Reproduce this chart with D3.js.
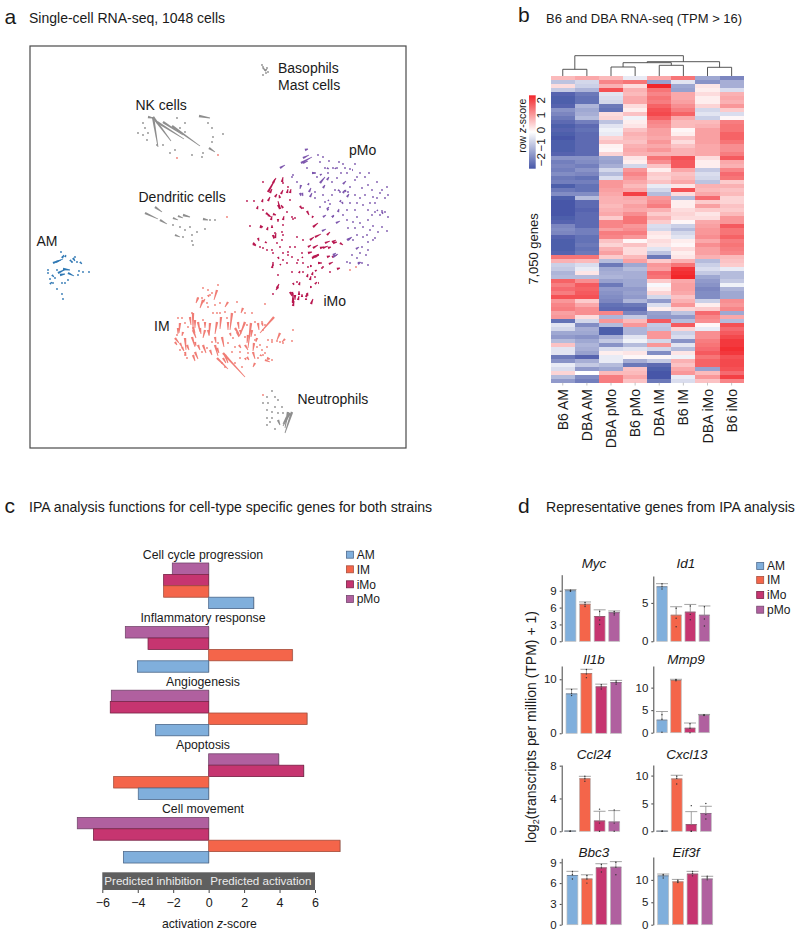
<!DOCTYPE html>
<html>
<head>
<meta charset="utf-8">
<script src="https://cdn.jsdelivr.net/npm/d3@7"></script>
<style>
html, body { margin: 0; padding: 0; background: #fff; }
svg { display: block; }
text { font-family: "Liberation Sans", Arial, sans-serif; fill: #1a1a1a; }
.domain { stroke: #444; }
</style>
</head>
<body>
<svg id="fig" width="800" height="937"></svg>
<script>
// ---- panel a: arrows are [x, y, dx, dy] in embedding units, dots are [x, y]
var amArrows = [[53,263,10,-4],[65,257,1,-2],[62,258,2,-3],[73,258,2,3],[80,262,2,2],[58,273,8,-4],[63,269,7,1],[68,273,6,3],[52,275,2,2],[50,284,2,-2],[56,262,5,-2],[60,275,5,-1],[70,260,2,2]];
var amDots = [[61,252],[75,257],[48,270],[48,273],[78,275],[83,272],[89,272],[79,271],[53,283],[62,283],[65,283],[57,289],[62,294],[63,299],[50,279],[55,278],[57,270],[72,262],[77,262],[68,280]];
var imArrows = [[217,358,11,11],[223,353,22,24],[274,317,-14,16],[251,323,-3,25],[254,343,-1,8],[280,333,-3,7],[285,339,-3,3],[217,290,-3,10],[208,295,1,2],[203,300,-3,8],[228,302,-3,5],[243,308,-2,5],[232,313,-2,17],[221,317,-1,12],[217,322,-2,12],[210,323,-1,13],[205,330,-2,8],[193,313,0,17],[198,322,2,10],[193,330,3,8],[180,323,-1,10],[183,332,-1,4],[175,338,4,5],[185,338,1,12],[192,337,3,10],[195,352,3,7],[193,355,2,6],[203,345,3,8],[210,350,2,5],[215,345,3,11],[222,337,2,10],[225,355,3,8],[235,328,5,8],[245,322,-5,13],[238,322,1,7],[230,333,1,3],[239,345,2,3],[245,345,3,5],[258,323,1,7],[253,352,2,7],[247,357,2,3],[255,363,-2,4],[265,360,5,2],
  [178,328,0,6],[190,317,1,8],[195,320,0,8],[193,327,2,6],[200,328,1,6],[205,322,0,6],[175,342,2,3],[180,343,2,4],[187,345,2,5],[182,347,2,4],[198,298,-2,5],[203,302,2,-3],[228,322,0,8],[237,332,2,5],[248,335,-1,8],[252,330,-1,7],[215,337,1,6],[208,330,1,5],[185,352,1,4],[195,342,1,4],[198,345,2,5],[217,348,2,5],[223,358,3,5],[245,358,1,2],[260,355,2,1],[267,358,3,1],[240,330,1,4],[257,338,-1,4],[262,323,1,3]];
var imDots = [[203,288],[210,295],[218,285],[198,298],[192,313],[208,307],[220,303],[237,302],[265,304],[252,313],[262,322],[255,322],[268,340],[272,342],[283,343],[292,341],[293,330],[267,347],[263,355],[268,359],[272,360],[258,358],[240,358],[232,352],[235,347],[228,343],[212,342],[202,352],[187,358],[180,350],[178,318],[185,323],[203,320],[227,318],[220,313],[213,313],[265,325],[245,337],[255,335],[242,367],[222,363],[257,347],[262,350],
  [208,290],[212,293],[202,298],[207,303],[215,305],[225,312],[235,312],[245,313],[217,313],[247,325],[263,330],[272,340],[277,341],[280,342],[240,352],[248,353],[255,340],[182,318],[188,327],[177,335],[185,355],[207,348],[218,343],[233,338],[260,345],[265,353],[225,367],[235,363]];
var imoArrows = [[268,192,8,-14],[282,182,1,-5],[281,194,2,-4],[287,193,1,-4],[290,193,1,-4],[280,209,-2,-8],[275,197,2,-3],[268,201,2,-4],[262,202,1,-3],[257,209,1,-3],[266,213,4,3],[273,214,3,1],[271,220,1,-4],[278,219,0,3],[283,220,1,-4],[260,226,3,1],[267,230,1,-3],[272,228,0,-3],[258,238,1,3],[253,243,3,2],[265,242,2,1],[275,238,1,-5],[300,206,2,3],[307,211,2,4],[313,216,-1,2],[313,227,5,-4],[315,237,6,-3],[327,235,3,-3],[313,248,5,-3],[325,243,5,-2],[332,242,4,-2],[340,243,3,2],[313,257,6,-3],[320,248,4,-1],[332,257,5,-2],[308,253,4,-1],[329,264,4,-2],[318,263,4,0],[310,266,2,0],[337,269,3,-1],[315,271,2,-1],[278,257,1,2],[280,265,1,-1],[272,268,1,-4],[302,257,1,1],[307,277,1,-3],[299,273,1,-2],[310,280,1,-4],[315,284,2,-2],[310,287,2,0],[299,285,1,-3],[293,283,1,2],[277,288,2,-4],[290,292,2,4],[293,302,0,-9],[293,306,1,-5],[299,295,0,-4],[298,300,1,-4],[306,297,1,-3],[311,304,2,-5],[306,300,0,-2],
  [273,183,2,-4],[270,193,2,-4],[280,198,-1,-3],[278,205,2,4],[283,208,-2,-3],[268,215,3,2],[260,227,2,1],[273,235,1,4],[253,244,3,2],[310,240,4,-3],[308,247,3,-2],[315,257,4,-2],[312,258,3,-1],[323,248,5,-2],[328,248,3,-1],[333,243,4,-1],[327,257,3,-1],[292,292,1,4],[295,295,0,5],[293,303,0,-5],[302,297,0,-3],[307,293,1,3],[278,287,-2,3],[312,275,1,-3],[318,283,1,0]];
var imoDots = [[263,182],[247,201],[254,201],[250,226],[263,210],[288,187],[292,217],[293,219],[283,225],[283,235],[282,232],[275,233],[263,248],[267,250],[273,253],[282,240],[288,252],[292,257],[295,247],[302,253],[303,240],[303,263],[287,263],[283,260],[278,275],[292,272],[297,282],[318,255],[323,267],[273,263],[273,294],
  [283,183],[290,200],[303,208],[287,212],[295,218],[277,243],[260,247],[272,250],[280,247],[297,237],[290,247],[298,260],[297,263],[308,267],[303,272],[283,253],[288,255],[273,265],[315,277],[322,268],[330,272]];
var pmoArrows = [[305,150,3,-1],[301,163,11,-6],[280,168,5,-3],[301,185,-1,4],[300,193,1,3],[309,192,2,-4],[310,197,2,-4],[320,183,5,-6],[327,180,2,-3],[323,188,2,-3],[343,184,3,-3],[327,209,2,-2],[338,212,1,-3],[323,217,3,-2],[336,223,4,-2],[332,217,2,-2],[347,240,5,-3],[356,249,3,-2],[322,231,4,-2],[333,257,5,-3],[358,264,3,-2],[343,193,2,-3],[347,197,2,-3],[340,202,1,-2],
  [312,173,3,0],[320,175,2,-1],[327,168,2,1],[335,168,1,1],[303,163,5,-2],[303,158,6,-3],[302,193,1,3],[308,185,1,-2],[328,200,1,1],[338,190,2,1],[345,190,1,2],[342,202,1,2],[327,210,2,-1],[332,217,2,-1],[348,240,3,-2],[352,170,1,0],[358,263,2,-1],[333,255,3,-2],[377,210,1,1],[382,212,1,2]];
var pmoDots = [[318,155],[323,157],[320,162],[329,161],[339,162],[333,168],[325,168],[328,173],[313,173],[307,168],[293,175],[350,169],[355,164],[360,173],[369,173],[343,164],[341,173],[357,177],[377,182],[350,187],[362,188],[368,185],[387,187],[388,195],[380,193],[373,197],[370,203],[360,198],[355,195],[335,190],[340,192],[323,195],[315,198],[325,202],[330,204],[347,210],[355,210],[363,205],[375,203],[382,211],[380,215],[388,217],[375,212],[368,220],[357,217],[343,215],[363,227],[373,226],[378,232],[387,231],[375,238],[363,237],[355,228],[348,228],[368,242],[360,253],[366,255],[368,265],[362,263],[347,262],[350,263],[297,182],[292,177],
  [315,173],[337,168],[347,173],[345,168],[365,177],[355,180],[348,192],[365,195],[372,190],[382,190],[385,198],[377,198],[357,203],[350,203],[368,210],[372,215],[385,212],[360,223],[353,222],[347,220],[370,230],[382,227],[367,235],[357,235],[353,240],[373,240],[362,247],[368,250],[352,255],[357,258],[317,177],[337,178],[332,182],[315,192],[332,195],[320,207]];
var greyArrows = [[153,117,5,30],[153,117,18,24],[157,122,27,17],[163,122,20,13],[172,126,28,20],[199,116,11,2],[209,148,6,4],[148,117,5,1],
  [145,213,13,6],[155,207,7,5],[160,220,7,4],[173,218,5,2],[178,216,5,2],[183,215,7,2],[203,219,5,1],[175,235,5,2],
  [292,412,-7,21],[288,412,-3,16],[290,413,-7,13],[287,417,-4,7],[278,420,2,5],
  [263,68,2,2],[265,71,2,-2]];
var greyDots = [[143,123],[145,128],[138,133],[143,135],[148,133],[147,140],[157,145],[177,118],[185,123],[180,128],[185,132],[208,123],[212,128],[213,137],[223,134],[212,142],[203,153],[192,155],[175,150],[170,153],[163,145],[202,157],
  [210,220],[215,220],[173,225],[180,227],[190,227],[197,232],[205,229],[192,235],[183,237],[192,241],[185,230],[193,245],
  [272,391],[267,397],[275,397],[263,403],[268,403],[278,400],[275,407],[282,407],[267,410],[272,412],[278,413],[267,418],[272,418],[267,425],[275,429],[283,413],[270,422],
  [262,65],[267,68],[263,75],[268,72],[265,70],[263,67],[266,73]];
var strayCoralDots = [[177,158],[218,155],[227,217],[263,395],[356,267],[350,270]];
var clusterLabels = [
  ["Basophils", 278, 73], ["Mast cells", 278, 90], ["NK cells", 135.5, 110], ["pMo", 349, 155],
  ["Dendritic cells", 138.5, 201.5], ["AM", 36.5, 246], ["iMo", 323.5, 305.5], ["IM", 154, 330.5], ["Neutrophils", 297.5, 404]
];

// ---- panel b: row z-scores, columns in heatColumns order
var heatColumns = ["B6 AM", "DBA AM", "DBA pMo", "B6 pMo", "DBA IM", "B6 IM", "DBA iMo", "B6 iMo"];
var heatRows = [
[0.8,1.0,0.8,-0.3,1.0,1.6,-1.3,-1.8],[-0.9,-0.6,1.4,1.6,-1.4,-0.4,-1.6,-1.2],[0.4,-0.7,0.9,0.4,2.5,-1.3,0.3,-1.2],[-0.8,-1.1,2.0,0.9,1.6,-1.4,0.2,-0.5],
[-2.3,-2.0,-0.4,0.8,1.4,1.0,0.4,0.9],[-2.4,-2.1,-0.5,1.0,1.6,1.0,0.2,1.0],[-2.4,-2.1,-0.6,1.0,1.5,1.1,0.2,0.9],[-2.3,-1.1,-2.0,0.4,1.8,1.3,0.5,1.2],
[-1.6,-1.3,-2.1,0.2,2.0,1.5,-0.6,0.6],[-1.8,-1.2,0.4,0.7,2.1,1.8,-0.4,-0.5],[-2.0,-1.0,0.5,-0.2,1.8,1.0,-0.7,0.1],[-2.2,-1.9,-0.9,0.2,1.4,0.8,0.8,1.5],
[-2.4,-2.2,-0.4,0.3,1.3,0.8,0.9,1.6],[-2.3,-2.1,-0.2,0.7,1.1,0.1,1.1,1.6],[-2.4,-2.2,-0.3,0.9,1.1,0.2,1.1,1.8],[-2.5,-2.2,0.5,0.8,1.0,0.7,1.1,1.8],
[-2.4,-2.2,0.7,0.7,1.2,0.4,1.1,1.6],[-2.4,-2.2,0.15,0.9,1.0,0.7,1.0,1.3],[-2.4,-2.2,0.1,1.0,1.2,0.9,1.0,1.3],[-2.3,-2.2,0.5,0.9,0.9,0.9,1.0,1.5],
[-1.6,-1.6,-1.3,0.3,1.6,2.0,0.4,1.9],[-1.9,-1.7,-1.4,0.2,1.3,1.9,0.2,1.0],[-1.8,-1.9,-1.2,-0.6,0.7,1.9,0.2,0.9],[-1.9,-1.6,-0.6,1.2,0.2,1.0,-0.8,1.4],
[-1.7,-1.8,-1.0,1.4,0.6,0.7,-0.5,1.7],[-2.0,-2.1,-0.5,1.2,0.5,0.8,-0.6,1.6],[-1.9,-1.9,1.2,1.0,0.7,1.0,-0.9,0.6],[-2.4,-2.1,1.2,0.8,-0.3,0.3,0.9,0.9],
[-2.0,-2.1,1.1,1.0,-0.6,2.0,0.8,0.7],[-1.7,-1.7,1.0,2.2,-1.0,0.4,1.0,0.8],[-2.4,-1.0,0.9,1.0,1.2,-1.0,1.7,0.5],[-2.5,-2.2,0.9,0.9,1.3,0.2,0.6,0.5],
[-2.5,-2.2,0.8,1.1,1.5,0.2,1.1,0.7],[-2.5,-2.3,0.9,1.0,0.9,0.4,0.6,0.6],[-2.5,-2.2,1.0,1.3,0.6,0.5,0.3,0.8],[-2.4,-2.2,0.6,1.6,0.9,0.4,0.4,1.2],
[-2.3,-2.2,1.4,1.6,0.6,0.1,1.0,1.2],[-1.8,-2.2,1.4,1.2,-0.5,-0.7,1.1,1.9],[-1.7,-1.9,1.1,1.3,-0.6,-1.0,1.2,1.6],[-1.8,-1.9,1.5,1.5,0.3,-0.6,1.2,1.6],
[-2.3,-2.1,1.4,1.2,0.2,-0.4,1.3,1.8],[-2.4,-2.1,0.7,0.1,0.4,0.2,1.0,1.5],[-2.4,-2.0,0.5,0.7,0.3,0.1,1.3,1.6],[-2.4,-2.1,0.9,0.4,-0.4,0.4,1.1,1.5],
[-2.3,-2.0,1.1,0.4,-0.9,0.2,1.1,1.4],[1.6,1.6,0.6,0.8,-2.0,0.3,0.9,0.8],[0.9,0.8,-1.0,1.1,0.6,0.9,-1.0,0.7],[-0.7,-0.5,-2.0,-1.3,1.2,1.6,-0.7,0.6],
[-0.8,-0.3,-1.3,-1.0,1.1,2.3,-0.5,-0.3],[-1.1,0.3,-1.2,-1.2,1.7,2.4,-0.8,-1.0],[-1.0,-1.0,-1.1,-1.2,1.6,2.5,-1.3,-1.0],[1.8,1.3,-1.4,-1.3,0.6,1.0,-1.5,-0.8],
[1.5,1.9,-2.0,-1.3,-0.1,1.1,-1.6,-0.2],[1.7,1.8,-1.5,-1.5,0.2,1.1,-1.8,-1.1],[1.5,1.9,-1.6,-1.4,0.5,1.0,-1.7,-1.3],[2.0,2.0,-1.7,-1.5,-0.6,0.7,-1.7,-1.3],
[1.2,0.6,-1.8,-1.1,-1.5,0.9,-0.7,1.3],[1.4,1.0,-2.1,-2.0,-0.5,1.2,0.2,1.2],[1.5,1.3,-2.2,-2.2,0.2,0.5,0.6,1.4],[1.1,1.3,1.4,-1.8,-1.4,-0.9,1.7,-1.3],
[1.2,0.4,-1.1,-0.8,-1.5,-1.5,1.4,1.0],[-2.1,-0.6,1.2,0.8,1.9,-1.0,1.3,-1.0],[-0.4,-1.7,-1.0,1.2,-0.8,1.9,0.1,2.0],[-0.6,-1.2,-2.4,-1.1,-0.9,0.5,-0.3,1.7],
[-1.3,-1.3,-2.4,-1.1,1.2,-0.7,1.3,1.9],[-1.5,-1.6,-1.2,-0.4,1.2,-0.5,1.3,2.1],[-1.0,-1.3,-0.8,-0.2,-0.6,-1.6,1.5,2.3],[0.7,-1.1,-1.6,-1.0,1.2,-0.4,1.6,2.3],
[-0.4,-1.2,-0.5,-0.4,-0.6,-1.0,1.7,2.4],[-0.4,-1.4,0.2,0.3,-1.7,0.3,1.9,2.3],[-2.0,-2.3,-0.3,0.1,0.1,-0.2,1.6,2.0],[-1.6,-1.2,-0.3,-1.2,-0.8,0.9,1.8,2.1],
[-0.3,-0.8,-1.0,-2.0,-2.2,0.7,1.8,2.1],[-0.5,-1.5,-1.3,0.7,-2.4,1.0,-1.4,2.0],[0.5,0.0,0.8,0.8,-2.5,1.2,0.8,1.7],[-1.0,-1.7,1.5,1.0,-2.5,-0.3,1.2,2.2],
[-1.5,-1.9,1.5,0.7,-2.0,-0.5,0.7,1.4]
];
// merges: child a, child b (0-7 leaf, 8+ earlier merge), height
var dendroMerges = [[0,1,6.7],[2,3,9],[4,5,10.7],[6,7,8.7],[9,10,13.3],[12,11,14.3],[8,13,20.3]];
var keyTicks = [-2, -1, 0, 1, 2];

// ---- panel c
var cellTypes = ["AM", "IM", "iMo", "pMo"];
var ipaFunctions = ["Cell cycle progression", "Inflammatory response", "Angiogenesis", "Apoptosis", "Cell movement"];
var ipaAM = [2.54, -4.02, -2.99, -3.97, -4.81];
var ipaIM = [-2.54, 4.72, 5.55, -5.36, 7.41];
var ipaIMo = [-2.54, -3.42, -5.55, 5.36, -6.5];
var ipaPMo = [-2.05, -4.7, -5.49, 3.95, -7.41];
var zTicks = [-6, -4, -2, 0, 2, 4, 6];

// ---- panel d: one value per cell type in cellTypes order
var genes = ["Myc", "Id1", "Il1b", "Mmp9", "Ccl24", "Cxcl13", "Bbc3", "Eif3f"];
var geneMeans = [[9.0,6.6,4.4,5.1],[7.1,3.4,3.8,3.4],[7.3,11.05,8.6,9.4],[2.8,11.6,1.0,3.9],[0.03,6.4,1.26,1.14],[0.03,9.4,1.2,3.2],[7.1,6.6,8.2,8.3],[10.9,9.55,11.3,10.2]];
var geneErrors = [[9.2,7.0,5.6,5.4],[7.5,4.5,4.8,4.6],[8.2,11.85,9.1,9.8],[4.7,11.85,2.15,4.05],[0.03,6.7,2.44,2.52],[0.03,10.06,3.53,4.49],[7.7,7.2,8.8,9.1],[11.3,10.1,11.9,10.8]];
var geneReplicates = [
  [[9.1,9.0,8.9],[6.9,6.5,6.2],[5.3,3.8,3.0],[5.3,5.0,4.7]],
  [[7.5,7.1,6.8],[4.3,3.0,1.9],[4.6,3.5,2.8],[4.5,2.9,2.0]],
  [[8.1,7.4,7.0],[11.8,11.0,10.3],[9.0,8.6,8.2],[9.7,9.4,9.1]],
  [[4.0,3.0,0.1],[11.8,11.7,11.5],[2.0,1.0,0],[4.0,3.9,3.8]],
  [[0,0,0],[6.7,6.4,6.1],[2.7,1.0,0],[2.6,1.0,0]],
  [[0,0,0],[9.9,9.5,8.5],[4.6,0,0],[5.0,3.0,2.2]],
  [[7.7,7.2,6.6],[7.1,6.6,6.0],[8.7,8.2,7.6],[9.0,8.3,7.2]],
  [[11.2,10.9,10.4],[9.9,9.6,9.4],[11.9,11.4,10.9],[10.8,10.4,10.0]]
];
var geneMax = [11.85, 8.5, 12.46, 14.8, 8.08, 11.9, 9.58, 15.1];
var geneTicks = [[0,3,6,9],[0,5],[0,10],[0,5,10],[0,4,8],[0,5,10],[0,3,6,9],[0,5,10]];

var barFill = { "AM": "#80afdc", "IM": "#f4654a", "iMo": "#c63570", "pMo": "#b0609f" };
var barEdge = { "AM": "#4f6b8e", "IM": "#a8503f", "iMo": "#7a2348", "pMo": "#76486f" };

var svg = d3.select("#fig");
var defs = svg.append("defs");

defs.append("filter").attr("id", "soft").attr("x", "-2%").attr("y", "-2%").attr("width", "104%").attr("height", "104%")
    .append("feGaussianBlur").attr("stdDeviation", 0.35);
defs.append("filter").attr("id", "softRows").attr("x", "0%").attr("y", "-1%").attr("width", "100%").attr("height", "102%")
    .append("feGaussianBlur").attr("stdDeviation", "0.2 0.7");

function addText(parent, str, x, y, size, anchor) {
    return parent.append("text").attr("x", x).attr("y", y)
        .attr("font-size", size).attr("text-anchor", anchor || "start").text(str);
}

function rotatedText(parent, str, x, y, size, anchor) {
    return parent.append("text")
        .attr("transform", "translate(" + x + "," + y + ") rotate(-90)")
        .attr("font-size", size).attr("text-anchor", anchor || "middle").text(str);
}

function drawLegend(g, x0, ys, textX) {
    cellTypes.forEach(function(type, i) {
        g.append("rect").attr("x", x0 + 0.4).attr("y", ys[i] - 3.5).attr("width", 7).attr("height", 7)
            .attr("fill", barFill[type]).attr("stroke", barEdge[type]).attr("stroke-width", 0.8);
        addText(g, type, textX, ys[i] + 4.3, 12);
    });
}

// headings
addText(svg, "a", 4.5, 23.5, 21);
addText(svg, "Single-cell RNA-seq, 1048 cells", 29, 22.5, 14);
addText(svg, "b", 518, 22, 21);
addText(svg, "B6 and DBA RNA-seq (TPM > 16)", 546, 22.5, 13);
addText(svg, "c", 4.5, 513, 21);
addText(svg, "IPA analysis functions for cell-type specific genes for both strains", 29, 512, 14.1);
addText(svg, "d", 518, 513, 21);
addText(svg, "Representative genes from IPA analysis", 546, 512, 14.1);

// ---- panel a
(function() {
    var g = svg.append("g");
    var sx = d3.scaleLinear().domain([30, 406]).range([30, 406]);
    var sy = d3.scaleLinear().domain([46, 448]).range([46, 448]);
    var marks = g.append("g").attr("filter", "url(#soft)");

    g.append("rect").attr("x", sx(30)).attr("y", sy(46))
        .attr("width", sx(406) - sx(30)).attr("height", sy(448) - sy(46))
        .attr("fill", "none").attr("stroke", "#4a4a4a").attr("stroke-width", 1.2);

    function needle(d) {
        var x0 = sx(d[0]), y0 = sy(d[1]), x1 = sx(d[0] + d[2]), y1 = sy(d[1] + d[3]);
        var len = Math.sqrt((x1 - x0) * (x1 - x0) + (y1 - y0) * (y1 - y0));
        var nx = -(y1 - y0) / len, ny = (x1 - x0) / len;
        var fat = 1.2, thin = 0.4;
        return "M" + (x0 + nx * fat) + "," + (y0 + ny * fat) +
            "L" + (x1 + nx * thin) + "," + (y1 + ny * thin) +
            "L" + (x1 - nx * thin) + "," + (y1 - ny * thin) +
            "L" + (x0 - nx * fat) + "," + (y0 - ny * fat) + "Z";
    }

    function drawCluster(arrows, dots, color) {
        marks.selectAll(null).data(arrows).enter().append("path")
            .attr("d", needle).attr("fill", color);
        marks.selectAll(null).data(dots).enter().append("circle")
            .attr("cx", function(d) { return sx(d[0]); })
            .attr("cy", function(d) { return sy(d[1]); })
            .attr("r", 0.9).attr("fill", color);
    }

    drawCluster(greyArrows, greyDots, "#8e8e8e");
    drawCluster(amArrows, amDots, "#2f78b4");
    drawCluster(imArrows, imDots, "#f07c74");
    drawCluster(imoArrows, imoDots, "#b8174f");
    drawCluster(pmoArrows, pmoDots, "#7d56ad");
    drawCluster([], strayCoralDots, "#f07c74");

    clusterLabels.forEach(function(d) { addText(g, d[0], d[1], d[2], 14); });
})();

// ---- panel b
(function() {
    var g = svg.append("g");
    var cells = g.append("g").attr("filter", "url(#softRows)");
    var x = d3.scaleBand().domain(heatColumns).range([550.7, 743.7]);
    var y = d3.scaleBand().domain(d3.range(heatRows.length)).range([76.3, 382.7]);
    var color = d3.scaleLinear().domain([-2.5, 0, 2.5]).range(["#4757a8", "#ffffff", "#f2262b"]);

    heatRows.forEach(function(row, i) {
        cells.selectAll(null).data(row).enter().append("rect")
            .attr("x", function(d, j) { return x(heatColumns[j]); })
            .attr("y", y(i))
            .attr("width", x.bandwidth())
            .attr("height", y.bandwidth())
            .attr("shape-rendering", "crispEdges")
            .attr("fill", function(d) { return color(d); });
    });

    heatColumns.forEach(function(c) {
        var cx = x(c) + x.bandwidth() / 2;
        g.append("line").attr("x1", cx).attr("x2", cx).attr("y1", 382.7).attr("y2", 385.5)
            .attr("stroke", "#aaa").attr("stroke-width", 0.7);
        rotatedText(g, c, cx + 5, 389, 14, "end");
    });

    // dendrogram from the merge table
    var h = d3.scaleLinear().domain([0, 20.3]).range([76, 55.7]);
    var nodes = heatColumns.map(function(c) { return { x: x(c) + x.bandwidth() / 2, y: 76 }; });
    dendroMerges.forEach(function(m) {
        var a = nodes[m[0]], b = nodes[m[1]], top = h(m[2]);
        g.append("path")
            .attr("d", "M" + a.x + "," + a.y + "V" + top + "H" + b.x + "V" + b.y)
            .attr("fill", "none").attr("stroke", "#444").attr("stroke-width", 0.9);
        nodes.push({ x: (a.x + b.x) / 2, y: top });
    });

    // colour key
    var keyY = d3.scaleLinear().domain([-2.6, 2.33]).range([168.7, 95.3]);
    var grad = defs.append("linearGradient").attr("id", "keyGrad")
        .attr("x1", 0).attr("y1", 1).attr("x2", 0).attr("y2", 0);
    [-2.5, 0, 2.5].forEach(function(v) {
        grad.append("stop").attr("offset", ((v + 2.5) / 5 * 100) + "%").attr("stop-color", color(v));
    });
    g.append("rect").attr("x", 529).attr("y", keyY(2.33)).attr("width", 6.7)
        .attr("height", keyY(-2.6) - keyY(2.33)).attr("fill", "url(#keyGrad)");
    keyTicks.forEach(function(t) {
        rotatedText(g, t < 0 ? "\u2212" + (-t) : String(t), 545, keyY(t), 11.5);
    });
    var rowLabel = rotatedText(g, "row ", 525.5, 125.7, 10.5);
    rowLabel.append("tspan").attr("font-style", "italic").text("z");
    rowLabel.append("tspan").text("-score");

    rotatedText(g, "7,050 genes", 538, 249, 13);
})();

// ---- panel c
(function() {
    var g = svg.append("g");
    var x = d3.scaleLinear().domain([-6, 6]).range([102.3, 315]);
    var groupY = d3.scaleBand().domain(ipaFunctions).range([563, 881]).paddingInner(0).paddingOuter(0);
    var order = ["pMo", "iMo", "IM", "AM"];
    var seriesOf = { "AM": ipaAM, "IM": ipaIM, "iMo": ipaIMo, "pMo": ipaPMo };
    var rowY = d3.scaleBand().domain(order).range([0, 45.6]);

    ipaFunctions.forEach(function(name, i) {
        var top = groupY(name);
        addText(g, name, 203, top - 4.5, 12.3, "middle");
        order.forEach(function(type) {
            var v = seriesOf[type][i];
            // pale offset edge first, the bar sits on top of it
            g.append("rect")
                .attr("x", x(Math.min(0, v)) + 0.8)
                .attr("y", top + rowY(type) + 0.2)
                .attr("width", Math.abs(x(v) - x(0)))
                .attr("height", rowY.bandwidth())
                .attr("fill", "#c4c4c4");
            g.append("rect")
                .attr("x", x(Math.min(0, v)))
                .attr("y", top + rowY(type))
                .attr("width", Math.abs(x(v) - x(0)))
                .attr("height", rowY.bandwidth())
                .attr("fill", barFill[type])
                .attr("stroke", barEdge[type]).attr("stroke-width", 0.8);
        });
    });

    g.append("rect").attr("x", x(-6)).attr("y", 872.3).attr("width", x(6) - x(-6)).attr("height", 17.7)
        .attr("fill", "#5f5f5f");
    addText(g, "Predicted inhibition", 104.3, 885, 11.6).style("fill", "#ececec");
    addText(g, "Predicted activation", 210.3, 885, 11.6).style("fill", "#ececec");

    var axis = g.append("g").attr("transform", "translate(0,890)")
        .call(d3.axisBottom(x).tickValues(zTicks).tickSize(3).tickSizeOuter(0)
            .tickFormat(function(d) { return d < 0 ? "\u2212" + (-d) : d; }));
    axis.select(".domain").remove();
    axis.selectAll("text").attr("font-size", 12.5).attr("font-family", "Liberation Sans").attr("dy", "0.9em");
    axis.selectAll("line").attr("stroke", "#444");

    var t = addText(g, "activation ", 162, 928, 12.2);
    t.append("tspan").attr("font-style", "italic").text("z");
    t.append("tspan").text("-score");

    drawLegend(g, 346, [554.7, 569.3, 584.3, 599], 356.7);
})();

// ---- panel d
(function() {
    var g = svg.append("g");
    // axis x, bars left, bars right, baseline y, axis top y, title x, title baseline
    var panels = [
        [561.7, 565, 619.7, 641.3, 574.7, 594, 568],
        [653.3, 656.7, 709.7, 641.3, 576, 686, 568],
        [561.7, 566, 621.7, 733.3, 666, 594, 664],
        [653.3, 656.7, 709.3, 732.7, 666, 686, 664],
        [561.7, 564.7, 619.7, 831.3, 765, 594, 759],
        [653.3, 656.7, 711.3, 831.3, 765, 687, 759],
        [561.7, 567, 621.3, 924.7, 858.3, 594, 857],
        [653.3, 657.7, 712.7, 924.7, 857, 686, 857]
    ];

    genes.forEach(function(gene, i) {
        var p = panels[i];
        var x = d3.scaleBand().domain(cellTypes).range([p[1], p[2]]).paddingInner(0.25);
        var y = d3.scaleLinear().domain([0, geneMax[i]]).range([p[3], p[4]]);

        addText(g, gene, p[5], p[6], 13.5, "middle").attr("font-style", "italic");

        cellTypes.forEach(function(type, j) {
            var bx = x(type), bw = x.bandwidth(), cx = bx + bw / 2;
            g.append("rect").attr("x", bx).attr("y", y(geneMeans[i][j]))
                .attr("width", bw).attr("height", y(0) - y(geneMeans[i][j]))
                .attr("fill", barFill[type]).attr("stroke", "#bdbdbd").attr("stroke-width", 0.7);
            g.append("line").attr("x1", bx).attr("x2", bx + bw)
                .attr("y1", y(geneMeans[i][j])).attr("y2", y(geneMeans[i][j]))
                .attr("stroke", barEdge[type]).attr("stroke-width", 0.7);
            g.append("line").attr("x1", cx).attr("x2", cx)
                .attr("y1", y(geneMeans[i][j])).attr("y2", y(geneErrors[i][j]))
                .attr("stroke", "#8a8a8a").attr("stroke-width", 0.8);
            g.append("line").attr("x1", cx - 6).attr("x2", cx + 6)
                .attr("y1", y(geneErrors[i][j])).attr("y2", y(geneErrors[i][j]))
                .attr("stroke", "#8a8a8a").attr("stroke-width", 0.8);
            g.selectAll(null).data(geneReplicates[i][j]).enter().append("circle")
                .attr("cx", cx).attr("cy", function(d) { return y(d); })
                .attr("r", 0.7).attr("fill", "#333");
        });

        var axis = g.append("g").attr("transform", "translate(" + p[0] + ",0)")
            .call(d3.axisLeft(y).tickValues(geneTicks[i]).tickSize(2).tickSizeOuter(0));
        axis.selectAll("text").attr("font-size", 11.5).attr("font-family", "Liberation Sans");
        axis.selectAll("line").attr("stroke", "#444");
    });

    var lab = rotatedText(g, "log", 536, 727, 14);
    lab.append("tspan").attr("font-size", 9).attr("dy", 3).text("2");
    lab.append("tspan").attr("dy", -3).text("(transcripts per million (TPM) + 1)");

    drawLegend(g, 756.3, [566, 580, 595, 609.7], 767);
})();
</script>
</body>
</html>
